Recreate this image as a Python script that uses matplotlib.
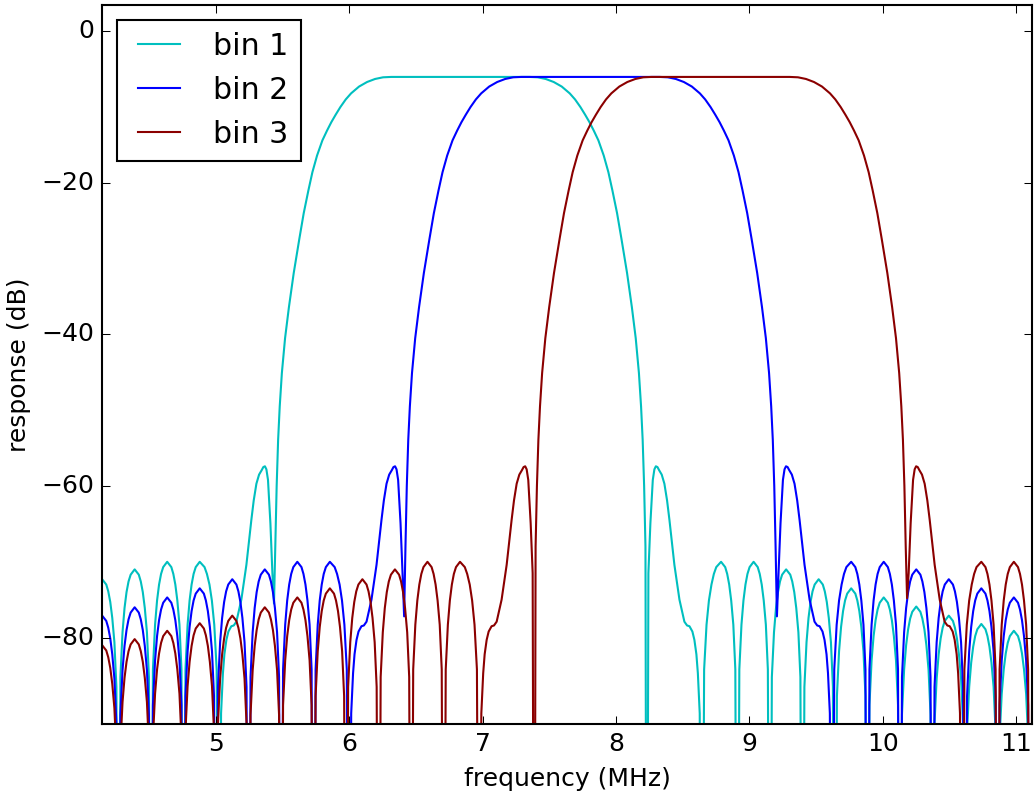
import matplotlib
matplotlib.use("Agg")
import matplotlib.pyplot as plt

# Values: (frequency in MHz, response in dB).
# -150 marks a deep null that falls below the visible axis.
bin1 = [
    (4.024, -150), (4.039, -86.5), (4.055, -80.6), (4.070, -77.4), (4.085, -75.3), (4.100, -73.9), (4.116, -73.0), (4.146, -72.3), (4.177, -73.0), (4.192, -73.9), (4.207, -75.3), (4.222, -77.4), (4.238, -80.6), (4.253, -86.5),
    (4.268, -150), (4.283, -85.2), (4.299, -79.3), (4.314, -76.1), (4.329, -74.0), (4.344, -72.6), (4.360, -71.7), (4.390, -71.0), (4.421, -71.7), (4.436, -72.6), (4.451, -74.0), (4.466, -76.1), (4.482, -79.3), (4.497, -85.2),
    (4.512, -150), (4.527, -84.2), (4.543, -78.3), (4.558, -75.1), (4.573, -73.0), (4.588, -71.6), (4.604, -70.7), (4.634, -70.0), (4.665, -70.7), (4.680, -71.6), (4.695, -73.0), (4.710, -75.1), (4.726, -78.3), (4.741, -84.2),
    (4.756, -150), (4.771, -84.2), (4.787, -78.3), (4.802, -75.1), (4.817, -73.0), (4.832, -71.6), (4.848, -70.7), (4.878, -70.0), (4.914, -70.7), (4.932, -71.6), (4.951, -73.0), (4.969, -75.1), (4.987, -78.3), (5.005, -84.2),
    (5.023, -150), (5.038, -90.0), (5.052, -84.7), (5.063, -82.2), (5.078, -80.3), (5.093, -79.2), (5.115, -78.5), (5.133, -78.4), (5.153, -77.9),
    (5.190, -75.0), (5.228, -70.4), (5.265, -64.5), (5.283, -61.9), (5.303, -59.7), (5.323, -58.5), (5.343, -57.9), (5.355, -57.5), (5.367, -57.4),
    (5.378, -57.8), (5.390, -59.2), (5.408, -64.9), (5.423, -71.5), (5.435, -75.5),
    (5.445, -68.0), (5.455, -60.0), (5.466, -53.9), (5.478, -49.5), (5.494, -45.1), (5.518, -40.5), (5.547, -36.4), (5.583, -31.9), (5.625, -27.4),
    (5.658, -24.0), (5.693, -21.0), (5.723, -18.6), (5.758, -16.4), (5.798, -14.4), (5.833, -13.1), (5.865, -12.0), (5.898, -11.0), (5.933, -10.0),
    (5.973, -9.0), (6.013, -8.2), (6.073, -7.3), (6.133, -6.7), (6.193, -6.3), (6.253, -6.08), (6.315, -6.03),
    (7.351, -6.03), (7.413, -6.08), (7.473, -6.3), (7.533, -6.7), (7.593, -7.3), (7.653, -8.2), (7.693, -9.0), (7.733, -10.0), (7.768, -11.0),
    (7.801, -12.0), (7.833, -13.1), (7.868, -14.4), (7.908, -16.4), (7.943, -18.6), (7.973, -21.0), (8.008, -24.0), (8.041, -27.4), (8.083, -31.9),
    (8.119, -36.4), (8.148, -40.5), (8.172, -45.1), (8.188, -49.5), (8.200, -53.9), (8.211, -60.0), (8.221, -68.0), (8.231, -150),
    (8.243, -71.5), (8.258, -64.9), (8.276, -59.2), (8.288, -57.8), (8.299, -57.4), (8.311, -57.5), (8.323, -57.9), (8.343, -58.5), (8.363, -59.7),
    (8.383, -61.9), (8.401, -64.5), (8.438, -70.4), (8.476, -75.0), (8.513, -77.9), (8.533, -78.4), (8.551, -78.5), (8.573, -79.2), (8.588, -80.3),
    (8.603, -82.2), (8.614, -84.7), (8.628, -90.0),
    (8.643, -150), (8.661, -84.2), (8.679, -78.3), (8.697, -75.1), (8.716, -73.0), (8.734, -71.6), (8.752, -70.7), (8.788, -70.0), (8.819, -70.7), (8.834, -71.6), (8.849, -73.0), (8.864, -75.1), (8.880, -78.3), (8.895, -84.2),
    (8.910, -150), (8.925, -84.2), (8.941, -78.3), (8.956, -75.1), (8.971, -73.0), (8.986, -71.6), (9.002, -70.7), (9.032, -70.0), (9.063, -70.7), (9.078, -71.6), (9.093, -73.0), (9.108, -75.1), (9.124, -78.3), (9.139, -84.2),
    (9.154, -150), (9.169, -85.2), (9.185, -79.3), (9.200, -76.1), (9.215, -74.0), (9.230, -72.6), (9.246, -71.7), (9.276, -71.0), (9.307, -71.7), (9.322, -72.6), (9.337, -74.0), (9.352, -76.1), (9.368, -79.3), (9.383, -85.2),
    (9.398, -150), (9.413, -86.5), (9.429, -80.6), (9.444, -77.4), (9.459, -75.3), (9.474, -73.9), (9.490, -73.0), (9.520, -72.3), (9.551, -73.0), (9.566, -73.9), (9.581, -75.3), (9.596, -77.4), (9.612, -80.6), (9.627, -86.5),
    (9.642, -150), (9.657, -87.7), (9.673, -81.8), (9.688, -78.6), (9.703, -76.5), (9.718, -75.1), (9.734, -74.2), (9.764, -73.5), (9.795, -74.2), (9.810, -75.1), (9.825, -76.5), (9.840, -78.6), (9.856, -81.8), (9.871, -87.7),
    (9.886, -150), (9.901, -88.9), (9.917, -83.0), (9.932, -79.8), (9.947, -77.7), (9.962, -76.3), (9.978, -75.4), (10.008, -74.7), (10.039, -75.4), (10.054, -76.3), (10.069, -77.7), (10.084, -79.8), (10.100, -83.0), (10.115, -88.9),
    (10.130, -150), (10.145, -90.1), (10.161, -84.2), (10.176, -81.0), (10.191, -78.9), (10.206, -77.5), (10.222, -76.6), (10.252, -75.9), (10.283, -76.6), (10.298, -77.5), (10.313, -78.9), (10.328, -81.0), (10.344, -84.2), (10.359, -90.1),
    (10.374, -150), (10.389, -91.3), (10.405, -85.4), (10.420, -82.2), (10.435, -80.1), (10.450, -78.7), (10.466, -77.8), (10.496, -77.1), (10.527, -77.8), (10.542, -78.7), (10.557, -80.1), (10.572, -82.2), (10.588, -85.4), (10.603, -91.3),
    (10.618, -150), (10.633, -92.4), (10.649, -86.5), (10.664, -83.3), (10.679, -81.2), (10.694, -79.8), (10.710, -78.9), (10.740, -78.2), (10.771, -78.9), (10.786, -79.8), (10.801, -81.2), (10.816, -83.3), (10.832, -86.5), (10.847, -92.4),
    (10.862, -150), (10.877, -93.3), (10.893, -87.4), (10.908, -84.2), (10.923, -82.1), (10.938, -80.7), (10.954, -79.8), (10.984, -79.1), (11.015, -79.8), (11.030, -80.7), (11.045, -82.1), (11.060, -84.2), (11.076, -87.4), (11.091, -93.3),
    (11.106, -150), (11.121, -94.4), (11.137, -88.5), (11.152, -85.3), (11.167, -83.2), (11.182, -81.8), (11.198, -80.9), (11.228, -80.2),
]

bin2 = [
    (4.024, -150), (4.039, -91.3), (4.055, -85.4), (4.070, -82.2), (4.085, -80.1), (4.100, -78.7), (4.116, -77.8), (4.146, -77.1), (4.177, -77.8), (4.192, -78.7), (4.207, -80.1), (4.222, -82.2), (4.238, -85.4), (4.253, -91.3),
    (4.268, -150), (4.283, -90.2), (4.299, -84.3), (4.314, -81.1), (4.329, -79.0), (4.344, -77.6), (4.360, -76.7), (4.390, -76.0), (4.421, -76.7), (4.436, -77.6), (4.451, -79.0), (4.466, -81.1), (4.482, -84.3), (4.497, -90.2),
    (4.512, -150), (4.527, -88.9), (4.543, -83.0), (4.558, -79.8), (4.573, -77.7), (4.588, -76.3), (4.604, -75.4), (4.634, -74.7), (4.665, -75.4), (4.680, -76.3), (4.695, -77.7), (4.710, -79.8), (4.726, -83.0), (4.741, -88.9),
    (4.756, -150), (4.771, -87.7), (4.787, -81.8), (4.802, -78.6), (4.817, -76.5), (4.832, -75.1), (4.848, -74.2), (4.878, -73.5), (4.909, -74.2), (4.924, -75.1), (4.939, -76.5), (4.954, -78.6), (4.970, -81.8), (4.985, -87.7),
    (5.000, -150), (5.015, -86.5), (5.031, -80.6), (5.046, -77.4), (5.061, -75.3), (5.076, -73.9), (5.092, -73.0), (5.122, -72.3), (5.153, -73.0), (5.168, -73.9), (5.183, -75.3), (5.198, -77.4), (5.214, -80.6), (5.229, -86.5),
    (5.244, -150), (5.259, -85.2), (5.275, -79.3), (5.290, -76.1), (5.305, -74.0), (5.320, -72.6), (5.336, -71.7), (5.366, -71.0), (5.397, -71.7), (5.412, -72.6), (5.427, -74.0), (5.442, -76.1), (5.458, -79.3), (5.473, -85.2),
    (5.488, -150), (5.503, -84.2), (5.519, -78.3), (5.534, -75.1), (5.549, -73.0), (5.564, -71.6), (5.580, -70.7), (5.610, -70.0), (5.641, -70.7), (5.656, -71.6), (5.671, -73.0), (5.686, -75.1), (5.702, -78.3), (5.717, -84.2),
    (5.732, -150), (5.747, -84.2), (5.763, -78.3), (5.778, -75.1), (5.793, -73.0), (5.808, -71.6), (5.824, -70.7), (5.854, -70.0), (5.890, -70.7), (5.908, -71.6), (5.927, -73.0), (5.945, -75.1), (5.963, -78.3), (5.981, -84.2),
    (5.999, -150), (6.014, -90.0), (6.028, -84.7), (6.039, -82.2), (6.054, -80.3), (6.069, -79.2), (6.091, -78.5), (6.109, -78.4), (6.129, -77.9),
    (6.166, -75.0), (6.204, -70.4), (6.241, -64.5), (6.259, -61.9), (6.279, -59.7), (6.299, -58.5), (6.319, -57.9), (6.331, -57.5), (6.343, -57.4),
    (6.354, -57.8), (6.366, -59.2), (6.384, -64.9), (6.399, -71.5), (6.411, -77.2),
    (6.421, -68.0), (6.431, -60.0), (6.442, -53.9), (6.454, -49.5), (6.470, -45.1), (6.494, -40.5), (6.523, -36.4), (6.559, -31.9), (6.601, -27.4),
    (6.634, -24.0), (6.669, -21.0), (6.699, -18.6), (6.734, -16.4), (6.774, -14.4), (6.809, -13.1), (6.841, -12.0), (6.874, -11.0), (6.909, -10.0),
    (6.949, -9.0), (6.989, -8.2), (7.049, -7.3), (7.109, -6.7), (7.169, -6.3), (7.229, -6.08), (7.291, -6.03),
    (8.327, -6.03), (8.389, -6.08), (8.449, -6.3), (8.509, -6.7), (8.569, -7.3), (8.629, -8.2), (8.669, -9.0), (8.709, -10.0), (8.744, -11.0),
    (8.777, -12.0), (8.809, -13.1), (8.844, -14.4), (8.884, -16.4), (8.919, -18.6), (8.949, -21.0), (8.984, -24.0), (9.017, -27.4), (9.059, -31.9),
    (9.095, -36.4), (9.124, -40.5), (9.148, -45.1), (9.164, -49.5), (9.176, -53.9), (9.187, -60.0), (9.197, -68.0), (9.207, -77.2),
    (9.219, -71.5), (9.234, -64.9), (9.252, -59.2), (9.264, -57.8), (9.275, -57.4), (9.287, -57.5), (9.299, -57.9), (9.319, -58.5), (9.339, -59.7),
    (9.359, -61.9), (9.377, -64.5), (9.414, -70.4), (9.452, -75.0), (9.489, -77.9), (9.509, -78.4), (9.527, -78.5), (9.549, -79.2), (9.564, -80.3),
    (9.579, -82.2), (9.590, -84.7), (9.604, -90.0),
    (9.619, -150), (9.637, -84.2), (9.655, -78.3), (9.673, -75.1), (9.692, -73.0), (9.710, -71.6), (9.728, -70.7), (9.764, -70.0), (9.795, -70.7), (9.810, -71.6), (9.825, -73.0), (9.840, -75.1), (9.856, -78.3), (9.871, -84.2),
    (9.886, -150), (9.901, -84.2), (9.917, -78.3), (9.932, -75.1), (9.947, -73.0), (9.962, -71.6), (9.978, -70.7), (10.008, -70.0), (10.039, -70.7), (10.054, -71.6), (10.069, -73.0), (10.084, -75.1), (10.100, -78.3), (10.115, -84.2),
    (10.130, -150), (10.145, -85.2), (10.161, -79.3), (10.176, -76.1), (10.191, -74.0), (10.206, -72.6), (10.222, -71.7), (10.252, -71.0), (10.283, -71.7), (10.298, -72.6), (10.313, -74.0), (10.328, -76.1), (10.344, -79.3), (10.359, -85.2),
    (10.374, -150), (10.389, -86.5), (10.405, -80.6), (10.420, -77.4), (10.435, -75.3), (10.450, -73.9), (10.466, -73.0), (10.496, -72.3), (10.527, -73.0), (10.542, -73.9), (10.557, -75.3), (10.572, -77.4), (10.588, -80.6), (10.603, -86.5),
    (10.618, -150), (10.633, -87.7), (10.649, -81.8), (10.664, -78.6), (10.679, -76.5), (10.694, -75.1), (10.710, -74.2), (10.740, -73.5), (10.771, -74.2), (10.786, -75.1), (10.801, -76.5), (10.816, -78.6), (10.832, -81.8), (10.847, -87.7),
    (10.862, -150), (10.877, -88.9), (10.893, -83.0), (10.908, -79.8), (10.923, -77.7), (10.938, -76.3), (10.954, -75.4), (10.984, -74.7), (11.015, -75.4), (11.030, -76.3), (11.045, -77.7), (11.060, -79.8), (11.076, -83.0), (11.091, -88.9),
    (11.106, -150), (11.121, -90.1), (11.137, -84.2), (11.152, -81.0), (11.167, -78.9), (11.182, -77.5), (11.198, -76.6), (11.228, -75.9),
]

bin3 = [
    (4.024, -150), (4.039, -95.2), (4.055, -89.3), (4.070, -86.1), (4.085, -84.0), (4.100, -82.6), (4.116, -81.7), (4.146, -81.0), (4.177, -81.7), (4.192, -82.6), (4.207, -84.0), (4.222, -86.1), (4.238, -89.3), (4.253, -95.2),
    (4.268, -150), (4.283, -94.4), (4.299, -88.5), (4.314, -85.3), (4.329, -83.2), (4.344, -81.8), (4.360, -80.9), (4.390, -80.2), (4.421, -80.9), (4.436, -81.8), (4.451, -83.2), (4.466, -85.3), (4.482, -88.5), (4.497, -94.4),
    (4.512, -150), (4.527, -93.3), (4.543, -87.4), (4.558, -84.2), (4.573, -82.1), (4.588, -80.7), (4.604, -79.8), (4.634, -79.1), (4.665, -79.8), (4.680, -80.7), (4.695, -82.1), (4.710, -84.2), (4.726, -87.4), (4.741, -93.3),
    (4.756, -150), (4.771, -92.3), (4.787, -86.4), (4.802, -83.2), (4.817, -81.1), (4.832, -79.7), (4.848, -78.8), (4.878, -78.1), (4.909, -78.8), (4.924, -79.7), (4.939, -81.1), (4.954, -83.2), (4.970, -86.4), (4.985, -92.3),
    (5.000, -150), (5.015, -91.3), (5.031, -85.4), (5.046, -82.2), (5.061, -80.1), (5.076, -78.7), (5.092, -77.8), (5.122, -77.1), (5.153, -77.8), (5.168, -78.7), (5.183, -80.1), (5.198, -82.2), (5.214, -85.4), (5.229, -91.3),
    (5.244, -150), (5.259, -90.2), (5.275, -84.3), (5.290, -81.1), (5.305, -79.0), (5.320, -77.6), (5.336, -76.7), (5.366, -76.0), (5.397, -76.7), (5.412, -77.6), (5.427, -79.0), (5.442, -81.1), (5.458, -84.3), (5.473, -90.2),
    (5.488, -150), (5.503, -88.9), (5.519, -83.0), (5.534, -79.8), (5.549, -77.7), (5.564, -76.3), (5.580, -75.4), (5.610, -74.7), (5.641, -75.4), (5.656, -76.3), (5.671, -77.7), (5.686, -79.8), (5.702, -83.0), (5.717, -88.9),
    (5.732, -150), (5.747, -87.7), (5.763, -81.8), (5.778, -78.6), (5.793, -76.5), (5.808, -75.1), (5.824, -74.2), (5.854, -73.5), (5.885, -74.2), (5.900, -75.1), (5.915, -76.5), (5.930, -78.6), (5.946, -81.8), (5.961, -87.7),
    (5.976, -150), (5.991, -86.5), (6.007, -80.6), (6.022, -77.4), (6.037, -75.3), (6.052, -73.9), (6.068, -73.0), (6.098, -72.3), (6.129, -73.0), (6.144, -73.9), (6.159, -75.3), (6.174, -77.4), (6.190, -80.6), (6.205, -86.5),
    (6.220, -150), (6.235, -85.2), (6.251, -79.3), (6.266, -76.1), (6.281, -74.0), (6.296, -72.6), (6.312, -71.7), (6.342, -71.0), (6.373, -71.7), (6.388, -72.6), (6.403, -74.0), (6.418, -76.1), (6.434, -79.3), (6.449, -85.2),
    (6.464, -150), (6.479, -84.2), (6.495, -78.3), (6.510, -75.1), (6.525, -73.0), (6.540, -71.6), (6.556, -70.7), (6.586, -70.0), (6.617, -70.7), (6.632, -71.6), (6.647, -73.0), (6.662, -75.1), (6.678, -78.3), (6.693, -84.2),
    (6.708, -150), (6.723, -84.2), (6.739, -78.3), (6.754, -75.1), (6.769, -73.0), (6.784, -71.6), (6.800, -70.7), (6.830, -70.0), (6.866, -70.7), (6.884, -71.6), (6.903, -73.0), (6.921, -75.1), (6.939, -78.3), (6.957, -84.2),
    (6.975, -150), (6.990, -90.0), (7.004, -84.7), (7.015, -82.2), (7.030, -80.3), (7.045, -79.2), (7.067, -78.5), (7.085, -78.4), (7.105, -77.9),
    (7.142, -75.0), (7.180, -70.4), (7.217, -64.5), (7.235, -61.9), (7.255, -59.7), (7.275, -58.5), (7.295, -57.9), (7.307, -57.5), (7.319, -57.4),
    (7.330, -57.8), (7.342, -59.2), (7.360, -64.9), (7.375, -71.5), (7.387, -150),
    (7.397, -68.0), (7.407, -60.0), (7.418, -53.9), (7.430, -49.5), (7.446, -45.1), (7.470, -40.5), (7.499, -36.4), (7.535, -31.9), (7.577, -27.4),
    (7.610, -24.0), (7.645, -21.0), (7.675, -18.6), (7.710, -16.4), (7.750, -14.4), (7.785, -13.1), (7.817, -12.0), (7.850, -11.0), (7.885, -10.0),
    (7.925, -9.0), (7.965, -8.2), (8.025, -7.3), (8.085, -6.7), (8.145, -6.3), (8.205, -6.08), (8.267, -6.03),
    (9.303, -6.03), (9.365, -6.08), (9.425, -6.3), (9.485, -6.7), (9.545, -7.3), (9.605, -8.2), (9.645, -9.0), (9.685, -10.0), (9.720, -11.0),
    (9.753, -12.0), (9.785, -13.1), (9.820, -14.4), (9.860, -16.4), (9.895, -18.6), (9.925, -21.0), (9.960, -24.0), (9.993, -27.4), (10.035, -31.9),
    (10.071, -36.4), (10.100, -40.5), (10.124, -45.1), (10.140, -49.5), (10.152, -53.9), (10.163, -60.0), (10.173, -68.0), (10.183, -74.8),
    (10.195, -71.5), (10.210, -64.9), (10.228, -59.2), (10.240, -57.8), (10.251, -57.4), (10.263, -57.5), (10.275, -57.9), (10.295, -58.5), (10.315, -59.7),
    (10.335, -61.9), (10.353, -64.5), (10.390, -70.4), (10.428, -75.0), (10.465, -77.9), (10.485, -78.4), (10.503, -78.5), (10.525, -79.2), (10.540, -80.3),
    (10.555, -82.2), (10.566, -84.7), (10.580, -90.0),
    (10.595, -150), (10.613, -84.2), (10.631, -78.3), (10.649, -75.1), (10.668, -73.0), (10.686, -71.6), (10.704, -70.7), (10.740, -70.0), (10.771, -70.7), (10.786, -71.6), (10.801, -73.0), (10.816, -75.1), (10.832, -78.3), (10.847, -84.2),
    (10.862, -150), (10.877, -84.2), (10.893, -78.3), (10.908, -75.1), (10.923, -73.0), (10.938, -71.6), (10.954, -70.7), (10.984, -70.0), (11.015, -70.7), (11.030, -71.6), (11.045, -73.0), (11.060, -75.1), (11.076, -78.3), (11.091, -84.2),
    (11.106, -150), (11.121, -85.2), (11.137, -79.3), (11.152, -76.1), (11.167, -74.0), (11.182, -72.6), (11.198, -71.7), (11.228, -71.0),
]

series_labels = ["bin 1", "bin 2", "bin 3"]
series_colors = ["c", "b", "#8b0000"]
x_ticks = [5, 6, 7, 8, 9, 10, 11]
y_ticks = [0, -20, -40, -60, -80]

plt.style.use("classic")
plt.rcParams.update({
    "figure.facecolor": "white",
    "savefig.facecolor": "white",
    "font.family": ["DejaVu Sans"],
    "font.size": 18,
    "legend.fontsize": 21.6,
    "lines.linewidth": 1.5,
    "axes.linewidth": 1.5,
    "patch.linewidth": 1.5,
    "xtick.major.size": 6,
    "ytick.major.size": 6,
    "xtick.major.width": 0.75,
    "ytick.major.width": 0.75,
    "xtick.major.pad": 6,
    "ytick.major.pad": 6,
    "axes.labelpad": 7.5,
})

fig = plt.figure(figsize=(10.34, 7.95), dpi=100)
ax = fig.add_axes([0.0989, 0.0893, 0.8989, 0.9048])

for pts, lab, col in zip([bin1, bin2, bin3], series_labels, series_colors):
    f = [p[0] for p in pts]
    d = [p[1] for p in pts]
    ax.plot(f, d, color=col, label=lab)

ax.set_xlim(4.147, 11.118)
ax.set_ylim(-91.4, 3.5)
ax.set_xticks(x_ticks)
ax.set_yticks(y_ticks)
ax.set_xlabel("frequency (MHz)")
ax.set_ylabel("response (dB)")
ax.legend(loc="upper left")

fig.savefig("out.png", dpi=100)
